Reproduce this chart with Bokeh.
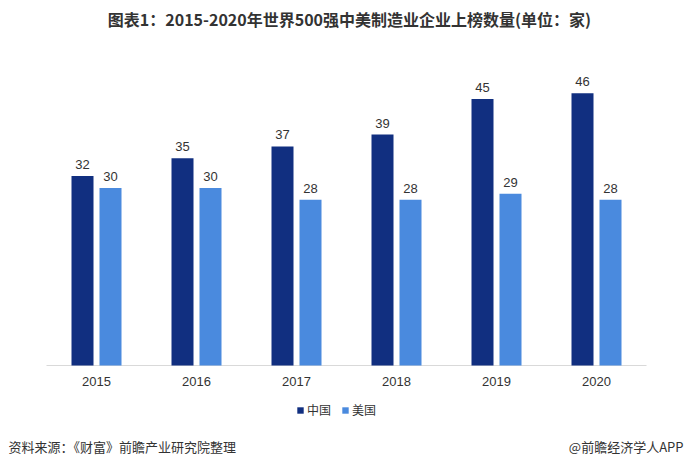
from bokeh.plotting import figure
from bokeh.models import ColumnDataSource, FactorRange, Range1d, LabelSet, Label, Legend, LegendItem
from bokeh.transform import dodge
from bokeh.core.properties import value
from bokeh.embed import file_html
from bokeh.resources import INLINE

years = ["2015", "2016", "2017", "2018", "2019", "2020"]
china = [32, 35, 37, 39, 45, 46]
usa = [30, 30, 28, 28, 29, 28]
series_names = ["中国", "美国"]
title_text = "图表1：2015-2020年世界500强中美制造业企业上榜数量(单位：家)"
source_text = "资料来源：《财富》前瞻产业研究院整理"
brand_text = "@前瞻经济学人APP"

C_CN = "#112f80"
C_US = "#4a8ade"
TXT = "#333333"

W, H = 684, 459
BASE = 365          # baseline pixel row
PXU = 5.92          # pixels per unit
SHIFT = 0.04        # category shift (units of category width)

src = ColumnDataSource(dict(year=years, china=china, usa=usa,
                            china_s=[str(v) for v in china], usa_s=[str(v) for v in usa],
                            zero=[0] * len(years)))
axis_src = ColumnDataSource(dict(first=[years[0]], last=[years[-1]], zero=[0]))

x_range = FactorRange(*years, range_padding=((W / 100.0) - len(years)) / 2.0,
                      range_padding_units="absolute")
y_range = Range1d(-(H - BASE) / PXU, BASE / PXU)
p = figure(width=W, height=H, x_range=x_range, y_range=y_range,
           output_backend="svg", toolbar_location=None,
           min_border=0, background_fill_color="white", border_fill_color="white")
p.outline_line_color = None
p.xgrid.grid_line_color = None
p.ygrid.grid_line_color = None
p.xaxis.visible = False
p.yaxis.visible = False

# axis line
p.segment(x0=dodge("first", -0.5 + SHIFT, range=p.x_range), y0="zero",
          x1=dodge("last", 0.5 + SHIFT, range=p.x_range), y1="zero",
          source=axis_src, line_color="#d9d9d9", line_width=1)

r1 = p.vbar(x=dodge("year", -0.14 + SHIFT, range=p.x_range), top="china", width=0.22, source=src,
            fill_color=C_CN, line_color=None)
r2 = p.vbar(x=dodge("year", 0.14 + SHIFT, range=p.x_range), top="usa", width=0.22, source=src,
            fill_color=C_US, line_color=None)

for col, off in (("china", -0.14), ("usa", 0.14)):
    p.add_layout(LabelSet(x=dodge("year", off + SHIFT, range=p.x_range), y=col, text=col + "_s",
                          source=src, text_align="center", text_baseline="bottom", y_offset=7,
                          text_font=value("Liberation Sans"), text_font_size="13px",
                          text_color=TXT))

# category tick labels
p.add_layout(LabelSet(x=dodge("year", SHIFT, range=p.x_range), y="zero", text="year", source=src,
                      text_align="center", text_baseline="middle", y_offset=-16,
                      text_font=value("Liberation Sans"), text_font_size="13px", text_color=TXT))

legend = Legend(items=[LegendItem(label=series_names[0], renderers=[r1]),
                       LegendItem(label=series_names[1], renderers=[r2])],
                orientation="horizontal", location=(296, H - 418),
                glyph_width=8, glyph_height=8, label_text_font="Noto Sans CJK SC",
                label_text_font_size="12px", label_text_color=TXT, label_standoff=3,
                spacing=10, padding=0, margin=0, border_line_color=None,
                background_fill_alpha=0, label_height=14)
p.add_layout(legend)

def lab(x, y, text, align, size, bold=False):
    return Label(x=x, y=H - y, x_units="screen", y_units="screen", text=text,
                 text_align=align, text_baseline="middle", text_font="Noto Sans CJK SC",
                 text_font_style="bold" if bold else "normal", text_font_size=size,
                 text_color=TXT)

p.add_layout(lab(349, 18, title_text, "center", "16px", True))
p.add_layout(lab(8, 446, source_text, "left", "13px"))
p.add_layout(lab(683, 446, brand_text, "right", "13px"))

open("out.html", "w").write(file_html(p, INLINE))
